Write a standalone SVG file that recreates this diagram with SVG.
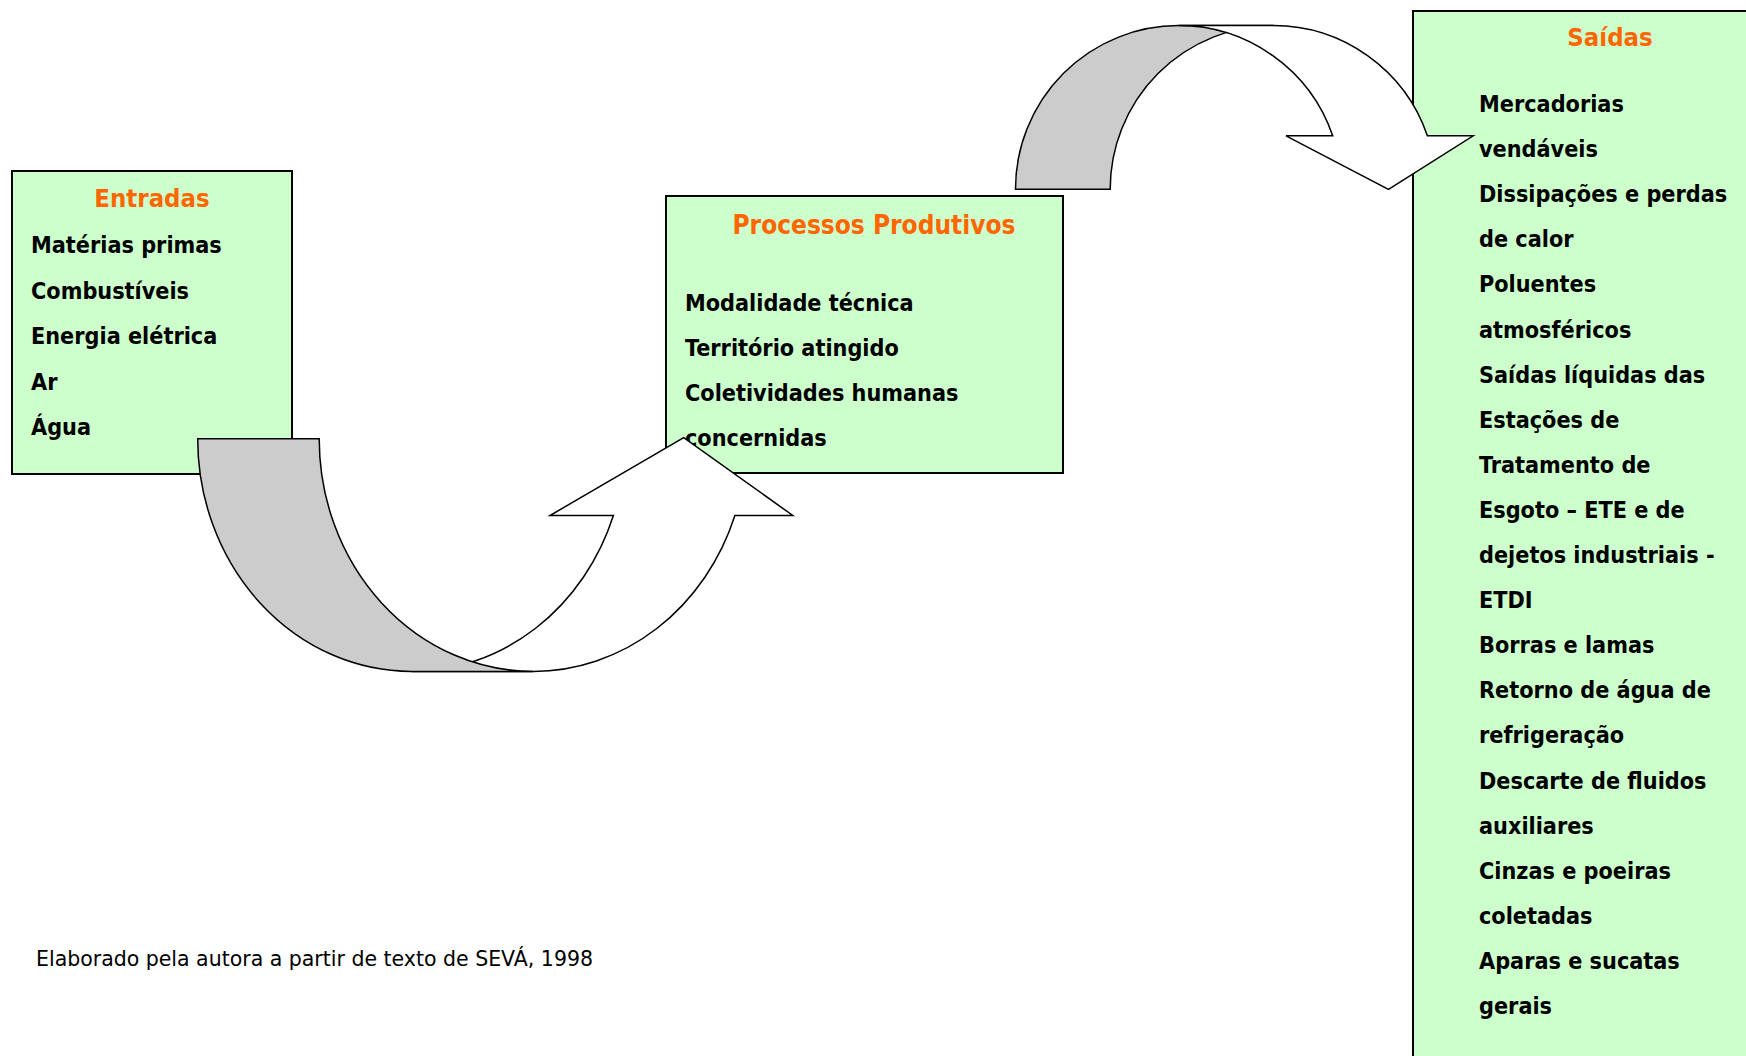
<svg xmlns="http://www.w3.org/2000/svg" width="1746" height="1056" viewBox="0 0 1746 1056">
  <style>
    .box { fill: #CCFFCC; stroke: #000000; stroke-width: 2; }
    .title { font-family: "DejaVu Sans Condensed", "DejaVu Sans", sans-serif; font-stretch: condensed; font-weight: bold; font-size: 25.5px; fill: #FF6600; text-anchor: middle; }
    .item { font-family: "DejaVu Sans Condensed", "DejaVu Sans", sans-serif; font-stretch: condensed; font-weight: bold; font-size: 23.2px; fill: #000000; }
    .note { font-family: "DejaVu Sans", sans-serif; font-size: 20.5px; fill: #000000; }
    .back { fill: #CCCCCC; stroke: #000000; stroke-width: 1.5; stroke-linejoin: miter; }
    .front { fill: #FFFFFF; stroke: #000000; stroke-width: 1.5; stroke-linejoin: miter; }
  </style>

  <rect width="1746" height="1056" fill="#FFFFFF"/>

  <!-- Inputs -->
  <g id="entradas" class="node">
    <rect class="box" x="12" y="171" width="280" height="303"/>
    <text class="title" x="152" y="207">Entradas</text>
    <text class="item" x="31" y="253">Matérias primas</text>
    <text class="item" x="31" y="298.5">Combustíveis</text>
    <text class="item" x="31" y="344">Energia elétrica</text>
    <text class="item" x="31" y="389.5">Ar</text>
    <text class="item" x="31" y="435">Água</text>
  </g>

  <!-- Production processes -->
  <g id="processos" class="node">
    <rect class="box" x="666" y="196" width="397" height="277"/>
    <text class="title" x="874" y="234" style="font-size:26px">Processos Produtivos</text>
    <text class="item" x="685" y="311">Modalidade técnica</text>
    <text class="item" x="685" y="356">Território atingido</text>
    <text class="item" x="685" y="401">Coletividades humanas</text>
    <text class="item" x="685" y="446">concernidas</text>
  </g>

  <!-- Outputs (box runs past the right and bottom edges) -->
  <g id="saidas" class="node">
    <rect class="box" x="1413" y="11" width="360" height="1070"/>
    <text class="title" x="1610" y="46">Saídas</text>
    <text class="item" x="1479" y="112">Mercadorias</text>
    <text class="item" x="1479" y="157.1">vendáveis</text>
    <text class="item" x="1479" y="202.2">Dissipações e perdas</text>
    <text class="item" x="1479" y="247.3">de calor</text>
    <text class="item" x="1479" y="292.4">Poluentes</text>
    <text class="item" x="1479" y="337.5">atmosféricos</text>
    <text class="item" x="1479" y="382.6">Saídas líquidas das</text>
    <text class="item" x="1479" y="427.7">Estações de</text>
    <text class="item" x="1479" y="472.8">Tratamento de</text>
    <text class="item" x="1479" y="517.9">Esgoto – ETE e de</text>
    <text class="item" x="1479" y="563">dejetos industriais -</text>
    <text class="item" x="1479" y="608.1">ETDI</text>
    <text class="item" x="1479" y="653.2">Borras e lamas</text>
    <text class="item" x="1479" y="698.3">Retorno de água de</text>
    <text class="item" x="1479" y="743.4">refrigeração</text>
    <text class="item" x="1479" y="788.5">Descarte de fluidos</text>
    <text class="item" x="1479" y="833.6">auxiliares</text>
    <text class="item" x="1479" y="878.7">Cinzas e poeiras</text>
    <text class="item" x="1479" y="923.8">coletadas</text>
    <text class="item" x="1479" y="968.9">Aparas e sucatas</text>
    <text class="item" x="1479" y="1014">gerais</text>
  </g>

  <!-- Curved block arrows: shaded band = back of the curve, white band = front with head -->
  <g id="connectors">
    <g id="arrow-entradas-processos">
      <path class="front" d="M 411.5,671.4 L 533,671.4 A 213.8 232.7 0 0 0 734.9,515.5 L 792.8,515.5 L 683.7,437.6 L 550,515.5 L 613.4,515.5 A 213.8 232.7 0 0 1 411.5,671.4 Z"/>
      <path class="back" d="M 197.7,438.7 A 213.8 232.7 0 0 0 411.5,671.4 L 533,671.4 A 213.8 232.7 0 0 1 319.2,438.7 Z"/>
    </g>
    <g id="arrow-processos-saidas">
      <path class="back" d="M 1015.5,189.3 A 163.1 163.7 0 0 1 1178.6,25.6 L 1273.3,25.6 A 163.1 163.7 0 0 0 1110.2,189.3 Z"/>
      <path class="front" d="M 1178.6,25.6 L 1273.3,25.6 A 163.1 163.7 0 0 1 1427.4,135.8 L 1473.2,135.8 L 1388.5,189.3 L 1286,135.8 L 1332.7,135.8 A 163.1 163.7 0 0 0 1178.6,25.6 Z"/>
    </g>
  </g>

  <text id="fonte" class="note" x="36" y="966" textLength="557" lengthAdjust="spacing">Elaborado pela autora a partir de texto de SEVÁ, 1998</text>
</svg>
